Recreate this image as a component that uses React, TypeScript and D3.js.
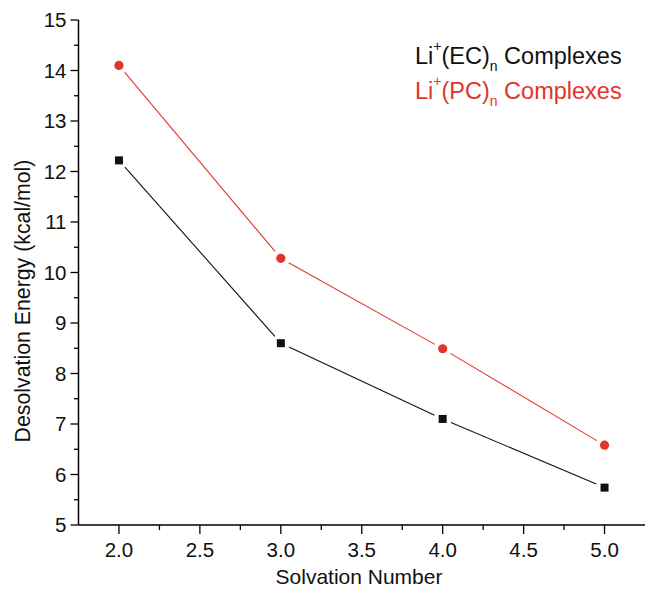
import React from "react";
import * as d3 from "d3";

const solvationNumbers = [2, 3, 4, 5];
const ecValues = [12.22, 8.6, 7.1, 5.74];
const pcValues = [14.1, 10.28, 8.49, 6.58];
const xTicks = [2.0, 2.5, 3.0, 3.5, 4.0, 4.5, 5.0];
const xMinorTicks = [2.25, 2.75, 3.25, 3.75, 4.25, 4.75];
const yTicks = [5, 6, 7, 8, 9, 10, 11, 12, 13, 14, 15];
const yMinorTicks = [5.5, 6.5, 7.5, 8.5, 9.5, 10.5, 11.5, 12.5, 13.5, 14.5];

const W = 645;
const H = 589;
const FONT = "'Liberation Sans', Arial, Helvetica, sans-serif";
const RED = "#e3342b";
const BLACK = "#111111";

const x = d3.scaleLinear().domain([1.75, 5.25]).range([78.5, 645]);
const y = d3.scaleLinear().domain([5, 15]).range([525, 20]);

function gappedSegments(xs: number[], ys: number[], gap: number) {
  const segs: { x1: number; y1: number; x2: number; y2: number }[] = [];
  for (let i = 0; i < xs.length - 1; i++) {
    const ax = x(xs[i]), ay = y(ys[i]);
    const bx = x(xs[i + 1]), by = y(ys[i + 1]);
    const dx = bx - ax, dy = by - ay;
    const len = Math.sqrt(dx * dx + dy * dy);
    const ux = dx / len, uy = dy / len;
    segs.push({ x1: ax + ux * gap, y1: ay + uy * gap, x2: bx - ux * gap, y2: by - uy * gap });
  }
  return segs;
}

export default function App() {
  const ecSegs = gappedSegments(solvationNumbers, ecValues, 9);
  const pcSegs = gappedSegments(solvationNumbers, pcValues, 9);
  const x0 = x.range()[0];
  const y0 = y.range()[0];
  return (
    <svg width={W} height={H} style={{ position: "absolute", left: 0, top: 0, background: "#fff" }} fontFamily={FONT}>
      <rect x={0} y={0} width={W} height={H} fill="#fff" />
      {/* series lines */}
      {ecSegs.map((s, i) => (
        <line key={"ec" + i} {...s} stroke={BLACK} strokeWidth={1.1} />
      ))}
      {pcSegs.map((s, i) => (
        <line key={"pc" + i} {...s} stroke={RED} strokeWidth={1.1} />
      ))}
      {/* markers */}
      {solvationNumbers.map((n, i) => (
        <rect key={"ecm" + i} x={x(n) - 4} y={y(ecValues[i]) - 4} width={8} height={8} fill={BLACK} />
      ))}
      {solvationNumbers.map((n, i) => (
        <circle key={"pcm" + i} cx={x(n)} cy={y(pcValues[i])} r={4.6} fill={RED} />
      ))}
      {/* axes */}
      <line x1={x0} y1={y(15)} x2={x0} y2={y0} stroke="#000" strokeWidth={1.5} />
      <line x1={x0} y1={y0} x2={W} y2={y0} stroke="#000" strokeWidth={1.5} />
      {yTicks.map((t) => (
        <g key={"yt" + t}>
          <line x1={x0 - 8} x2={x0} y1={y(t)} y2={y(t)} stroke="#000" strokeWidth={1.3} />
          <text x={66.5} y={y(t)} dy="0.36em" textAnchor="end" fontSize={20.5} fill="#111">
            {t}
          </text>
        </g>
      ))}
      {yMinorTicks.map((t) => (
        <line key={"ym" + t} x1={x0 - 4.5} x2={x0} y1={y(t)} y2={y(t)} stroke="#000" strokeWidth={1.3} />
      ))}
      {xTicks.map((t) => (
        <g key={"xt" + t}>
          <line x1={x(t)} x2={x(t)} y1={y0} y2={y0 + 9} stroke="#000" strokeWidth={1.3} />
          <text x={x(t)} y={556.5} textAnchor="middle" fontSize={20.5} fill="#111">
            {t.toFixed(1)}
          </text>
        </g>
      ))}
      {xMinorTicks.map((t) => (
        <line key={"xm" + t} x1={x(t)} x2={x(t)} y1={y0} y2={y0 + 5} stroke="#000" strokeWidth={1.3} />
      ))}
      {/* axis titles */}
      <text x={359} y={583.5} textAnchor="middle" fontSize={21} fill="#111">
        Solvation Number
      </text>
      <text
        transform={`translate(30, 301) rotate(-90)`}
        textAnchor="middle"
        fontSize={21.3}
        fill="#111"
      >
        Desolvation Energy (kcal/mol)
      </text>
      {/* legend */}
      <text x={415} y={64} fontSize={23.5} fill={BLACK}>
        Li
        <tspan fontSize={14} dy={-13}>+</tspan>
        <tspan dy={13}>(EC)</tspan>
        <tspan fontSize={14} dy={7}>n</tspan>
        <tspan dy={-7}> Complexes</tspan>
      </text>
      <text x={415} y={98.5} fontSize={23.5} fill={RED}>
        Li
        <tspan fontSize={14} dy={-13}>+</tspan>
        <tspan dy={13}>(PC)</tspan>
        <tspan fontSize={14} dy={7}>n</tspan>
        <tspan dy={-7}> Complexes</tspan>
      </text>
    </svg>
  );
}
